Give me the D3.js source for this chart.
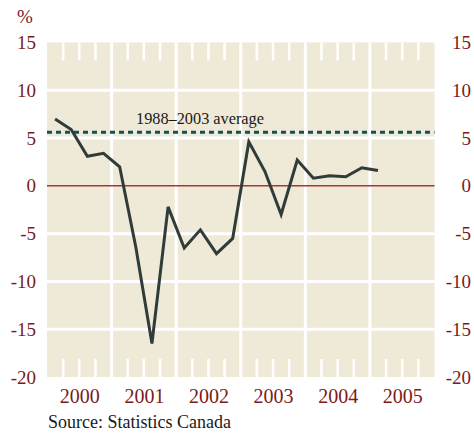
<!DOCTYPE html>
<html>
<head>
    <title>GDP growth</title>
    <script src="https://cdn.jsdelivr.net/npm/d3@7"></script>
    <meta charset="utf-8" />
    <style>
        body { margin: 0; background: #fff; }
        text { font-family: "Liberation Serif", serif; }
    </style>
</head>
<body>
    <script>
        // quarterly values, 2000Q1 .. 2005Q1
        var quarters = ["2000Q1", "2000Q2", "2000Q3", "2000Q4",
            "2001Q1", "2001Q2", "2001Q3", "2001Q4",
            "2002Q1", "2002Q2", "2002Q3", "2002Q4",
            "2003Q1", "2003Q2", "2003Q3", "2003Q4",
            "2004Q1", "2004Q2", "2004Q3", "2004Q4",
            "2005Q1"];
        var growth = [7.0, 5.9, 3.1, 3.4,
            2.0, -6.4, -16.5, -2.2,
            -6.5, -4.6, -7.1, -5.5,
            4.6, 1.5, -3.0, 2.7,
            0.8, 1.05, 0.95, 1.9,
            1.6];
        var years = [2000, 2001, 2002, 2003, 2004, 2005];
        var yTicks = [15, 10, 5, 0, -5, -10, -15, -20];
        var average = 5.6;
        var averageLabel = "1988\u20132003 average";

        var width = 474;
        var height = 436;
        var red = "#7b1a1c";

        var svg = d3.select("body")
            .append("svg")
            .attr("width", width)
            .attr("height", height);

        var x = d3.scaleLinear().domain([2000, 2006]).range([47, 434.5]);
        var y = d3.scaleLinear().domain([-20, 15]).range([377, 42.5]);

        function qx(q) {
            var yr = +q.slice(0, 4), n = +q.slice(5);
            return x(yr + (n - 0.5) / 4);
        }

        // background
        svg.append("rect")
            .attr("x", x(2000)).attr("y", y(15))
            .attr("width", x(2006) - x(2000))
            .attr("height", y(-20) - y(15))
            .attr("fill", "#efe9d7");

        // white grid
        svg.selectAll(".hgrid").data([10, 5, -5, -10, -15]).enter()
            .append("line")
            .attr("x1", x(2000)).attr("x2", x(2006))
            .attr("y1", function (d) { return y(d); })
            .attr("y2", function (d) { return y(d); })
            .attr("stroke", "#fff").attr("stroke-width", 3);

        svg.selectAll(".vgrid").data(years.slice(1)).enter()
            .append("line")
            .attr("x1", function (d) { return x(d); })
            .attr("x2", function (d) { return x(d); })
            .attr("y1", y(15)).attr("y2", y(-20))
            .attr("stroke", "#fff").attr("stroke-width", 3);

        // quarter notches top and bottom
        var notches = [];
        years.forEach(function (yr) { [0.25, 0.5, 0.75].forEach(function (f) { notches.push(yr + f); }); });
        svg.selectAll(".ntop").data(notches).enter()
            .append("line")
            .attr("x1", function (d) { return x(d); })
            .attr("x2", function (d) { return x(d); })
            .attr("y1", y(15)).attr("y2", y(15) + 18)
            .attr("stroke", "#fff").attr("stroke-width", 2.5);
        svg.selectAll(".nbot").data(notches).enter()
            .append("line")
            .attr("x1", function (d) { return x(d); })
            .attr("x2", function (d) { return x(d); })
            .attr("y1", y(-20) - 18).attr("y2", y(-20))
            .attr("stroke", "#fff").attr("stroke-width", 2.5);

        // zero line
        svg.append("line")
            .attr("x1", x(2000)).attr("x2", x(2006))
            .attr("y1", y(0)).attr("y2", y(0))
            .attr("stroke", "#a03a3a").attr("stroke-width", 1.5);

        // average line
        svg.append("line")
            .attr("x1", x(2000)).attr("x2", x(2006))
            .attr("y1", y(average)).attr("y2", y(average))
            .attr("stroke", "#0f5258").attr("stroke-width", 3)
            .attr("stroke-dasharray", "5,4");

        svg.append("text")
            .attr("x", 136).attr("y", y(average) - 8)
            .attr("font-size", 16.3)
            .attr("fill", "#1a1a1a")
            .text(averageLabel);

        // series
        var line = d3.line()
            .x(function (d, i) { return qx(quarters[i]); })
            .y(function (d) { return y(d); });

        svg.append("path")
            .datum(growth)
            .attr("d", line)
            .attr("fill", "none")
            .attr("stroke", "#2f3c39")
            .attr("stroke-width", 3)
            .attr("stroke-linejoin", "miter");

        // axes
        var fmt = function (d) { return String(d); };
        var left = svg.append("g")
            .attr("transform", "translate(36,0)")
            .call(d3.axisLeft(y).tickValues(yTicks).tickFormat(fmt).tickSize(0).tickPadding(0));
        var right = svg.append("g")
            .attr("transform", "translate(471,0)")
            .call(d3.axisLeft(y).tickValues(yTicks).tickFormat(fmt).tickSize(0).tickPadding(0));
        var bottom = svg.append("g")
            .attr("transform", "translate(0,403)")
            .call(d3.axisBottom(x).tickValues(years.map(function (d) { return d + 0.5; }))
                .tickFormat(function (d) { return String(Math.floor(d)); })
                .tickSize(0).tickPadding(0));

        [left, right].forEach(function (g) {
            g.select(".domain").remove();
            g.selectAll("text")
                .attr("font-family", "Liberation Serif")
                .attr("font-size", 19)
                .attr("fill", red);
        });
        bottom.select(".domain").remove();
        bottom.selectAll("text")
            .attr("font-family", "Liberation Serif")
            .attr("font-size", 20)
            .attr("fill", red)
            .attr("dy", 0);

        svg.append("text")
            .attr("x", 17).attr("y", 23)
            .attr("font-size", 19)
            .attr("fill", red)
            .text("%");

        svg.append("text")
            .attr("x", 48).attr("y", 428)
            .attr("font-size", 18)
            .attr("fill", "#1a1a1a")
            .text("Source: Statistics Canada");
    </script>
</body>
</html>
